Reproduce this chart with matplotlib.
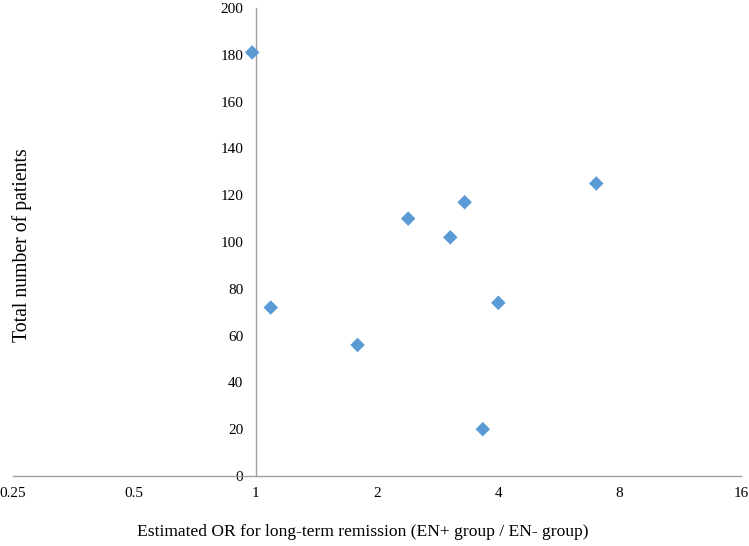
import numpy as np
import matplotlib.pyplot as plt

odds_ratio = [0.98, 1.09, 1.79, 2.39, 3.04, 3.30, 3.66, 4.0, 7.0]
patients = [181, 72, 56, 110, 102, 117, 20, 74, 125]
xticks = [0.25, 0.5, 1, 2, 4, 8, 16]
xtick_labels = ['0.25', '0.5', '1', '2', '4', '8', '16']
yticks = list(range(0, 201, 20))

plt.rcParams['font.family'] = ['Liberation Serif', 'DejaVu Serif']

fig = plt.figure(figsize=(7.49, 5.46), dpi=100)
W, H = 749, 546
ax = fig.add_axes([13 / W, 1 - 476 / H, (741 - 13) / W, (476 - 8) / H])

ax.scatter(odds_ratio, patients, marker='D', s=55, color='#5B9BD5',
           edgecolors='none', zorder=3, clip_on=False)

ax.set_xscale('log', base=2)
ax.set_xlim(0.25, 16)
ax.set_ylim(0, 200)
ax.set_xticks(xticks)
ax.set_xticklabels(xtick_labels)
ax.minorticks_off()
ax.set_yticks(yticks)

for s in ['top', 'right']:
    ax.spines[s].set_visible(False)
ax.spines['left'].set_position(('data', 1))
ax.spines['bottom'].set_position(('data', 0))
for s in ['left', 'bottom']:
    ax.spines[s].set_color('#a0a0a0')
    ax.spines[s].set_linewidth(1.0)

ax.tick_params(axis='both', length=0, labelsize=11, colors='black')
ax.tick_params(axis='x', pad=8)
ax.tick_params(axis='y', pad=9)

fig.text(363 / W, 1 - 532 / H, 'Estimated OR for long-term remission (EN+ group / EN- group)',
         ha='center', va='center', fontsize=12.6)
fig.text(22.5 / W, 1 - 245 / H, 'Total number of patients', rotation=90,
         ha='center', va='center', fontsize=14.2)

fig.savefig('out.png', dpi=100)
